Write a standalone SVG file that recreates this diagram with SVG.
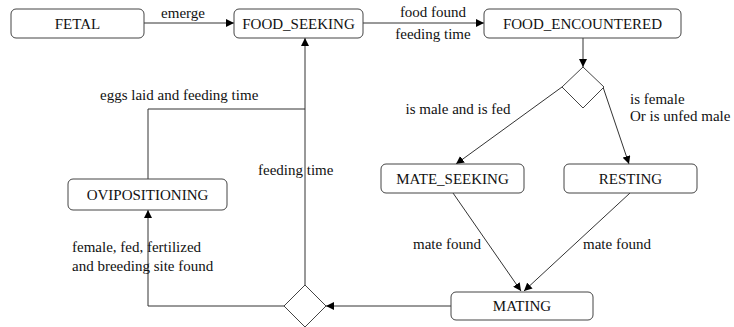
<svg xmlns="http://www.w3.org/2000/svg" width="734" height="327" viewBox="0 0 734 327">
<style>
.n{fill:#fff;stroke:#444;stroke-width:1}
.t{font-family:'Liberation Serif','Times New Roman',serif;font-size:15px;fill:#111}
.c{text-anchor:middle}
.e{fill:none;stroke:#333;stroke-width:1}
.a{marker-end:url(#arr)}
</style>
<defs>
<marker id="arr" viewBox="0 0 10 10" refX="10" refY="5" markerWidth="8" markerHeight="8" markerUnits="userSpaceOnUse" orient="auto">
<path d="M0,0 L10,5 L0,10 z" fill="#000"/>
</marker>
</defs>
<rect width="734" height="327" fill="#fff"/>
<g id="connectors">
<line class="e a" x1="144" y1="23" x2="234" y2="23"/>
<line class="e a" x1="363" y1="23" x2="484" y2="23"/>
<line class="e a" x1="583" y1="38" x2="583" y2="67"/>
<line class="e a" x1="562" y1="87" x2="456" y2="164"/>
<line class="e a" x1="603" y1="87" x2="629" y2="164"/>
<line class="e a" x1="453" y1="193" x2="521" y2="291"/>
<line class="e a" x1="630" y1="193" x2="524" y2="291"/>
<line class="e a" x1="451" y1="306" x2="326" y2="306"/>
<line class="e a" x1="305" y1="285" x2="305" y2="38"/>
<polyline class="e a" points="284,306 148,306 148,210"/>
<polyline class="e" points="148,179 148,109 305,109"/>
<g class="t">
<text class="c" x="183" y="18">emerge</text>
<text class="c" x="433" y="17">food found</text>
<text class="c" x="433" y="39">feeding time</text>
<text class="c" x="458" y="114">is male and is fed</text>
<text x="630" y="104">is female</text>
<text x="630" y="121">Or is unfed male</text>
<text x="100" y="100">eggs laid and feeding time</text>
<text x="258" y="175">feeding time</text>
<text x="72" y="252">female, fed, fertilized</text>
<text x="72" y="271">and breeding site found</text>
<text x="413" y="249">mate found</text>
<text x="583" y="249">mate found</text>
</g>
</g>
<g id="fetal"><rect class="n" x="11" y="9" width="133" height="29" rx="5"/><text class="t c" x="77.5" y="29">FETAL</text></g>
<g id="food_seeking"><rect class="n" x="234" y="9" width="129" height="29" rx="5"/><text class="t c" x="298.5" y="29">FOOD_SEEKING</text></g>
<g id="food_encountered"><rect class="n" x="484" y="9" width="197" height="29" rx="5"/><text class="t c" x="582.5" y="29">FOOD_ENCOUNTERED</text></g>
<g id="decision1"><polygon class="n" points="583,67 604,87 583,108 562,87"/></g>
<g id="mate_seeking"><rect class="n" x="381" y="164" width="143" height="29" rx="5"/><text class="t c" x="452.5" y="184">MATE_SEEKING</text></g>
<g id="resting"><rect class="n" x="564" y="164" width="133" height="29" rx="5"/><text class="t c" x="630.5" y="184">RESTING</text></g>
<g id="mating"><rect class="n" x="451" y="292" width="142" height="28" rx="5"/><text class="t c" x="522" y="311">MATING</text></g>
<g id="decision2"><polygon class="n" points="305,285 326,306 305,327 284,306"/></g>
<g id="ovipositioning"><rect class="n" x="68" y="179" width="159" height="31" rx="5"/><text class="t c" x="147.5" y="200">OVIPOSITIONING</text></g>
</svg>
